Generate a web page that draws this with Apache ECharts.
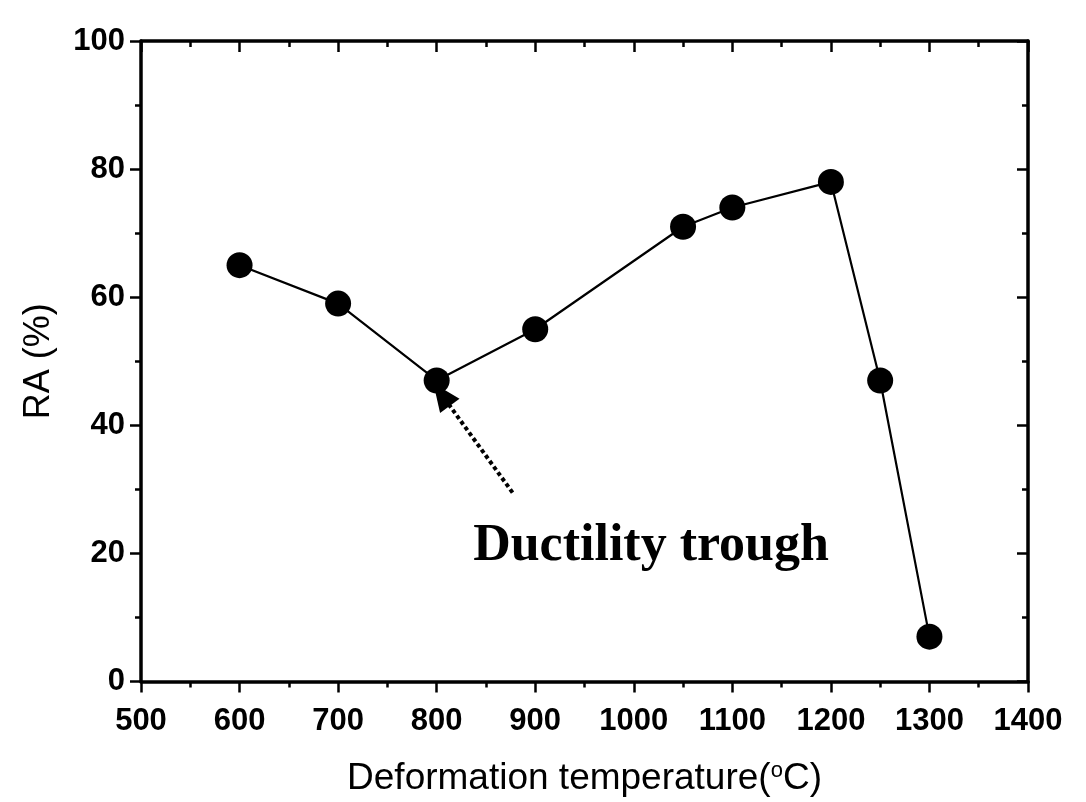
<!DOCTYPE html>
<html>
<head>
<meta charset="utf-8">
<script src="https://cdn.jsdelivr.net/npm/echarts@6/dist/echarts.min.js"></script>
<style>
  html, body { margin: 0; padding: 0; background: #fff; }
  #main { width: 1086px; height: 802px; }
</style>
</head>
<body>
<div id="main"></div>
<script>
// data
var temps = [600, 700, 800, 900, 1050, 1100, 1200, 1250, 1300];
var ra = [65, 59, 47, 55, 71, 74, 78, 47, 7];
// annotation arrow (tail -> head) and text anchor, in data units
var arrowTail = [877, 29.5];
var arrowHead = [805, 44.8];
var noteText = 'Ductility trough';
var notePos = [837, 21];

var chart = echarts.init(document.getElementById('main'));

var axisFont = { fontFamily: 'Liberation Sans, Arial', fontSize: 31, fontWeight: 'bold', color: '#000' };

// main axes have outward ticks and labels, mirror axes have inward ticks only
function frameAxis(pos, isX, main) {
  var ax = {
    type: 'value',
    position: pos,
    axisLine: { show: true, onZero: false, lineStyle: { color: '#000', width: 3.5 } },
    axisTick: { show: true, inside: !main, length: 11, lineStyle: { color: '#000', width: 2.5 } },
    minorTick: { show: true, splitNumber: 2, length: 6, lineStyle: { color: '#000', width: 2.5 } },
    splitLine: { show: false },
    axisLabel: main ? Object.assign({ margin: isX ? 24 : 16, formatter: function (v) { return String(v); } }, axisFont) : { show: false }
  };
  if (isX) {
    ax.min = 500; ax.max = 1400; ax.interval = 100;
  } else {
    ax.min = 0; ax.max = 100; ax.interval = 20;
  }
  return ax;
}

var xBottom = frameAxis('bottom', true, true);
xBottom.name = 'Deformation temperature({sup|o}C)';
xBottom.nameLocation = 'middle';
xBottom.nameGap = 78;
xBottom.nameTextStyle = {
  fontFamily: 'Liberation Sans, Arial', fontSize: 37, color: '#000',
  rich: { sup: { fontFamily: 'Liberation Sans, Arial', fontSize: 22, color: '#000', verticalAlign: 'top', padding: [0, 0, 16, 0] } }
};
var yLeft = frameAxis('left', false, true);
yLeft.name = 'RA (%)';
yLeft.nameLocation = 'middle';
yLeft.nameGap = 84;
yLeft.nameTextStyle = { fontFamily: 'Liberation Sans, Arial', fontSize: 36, color: '#000' };

var option = {
  animation: false,
  backgroundColor: '#fff',
  grid: { left: 141, top: 41, right: 58, bottom: 119 },
  xAxis: [xBottom, frameAxis('top', true, false)],
  yAxis: [yLeft, frameAxis('right', false, false)],
  series: [{
    type: 'line',
    data: temps.map(function (t, i) { return [t, ra[i]]; }),
    symbol: 'circle',
    symbolSize: 26,
    itemStyle: { color: '#000' },
    lineStyle: { color: '#000', width: 2.2 },
    markLine: {
      silent: true,
      symbol: ['none', 'triangle'],
      symbolSize: [24, 28],
      label: { show: false },
      lineStyle: { color: '#000', type: [4, 3], width: 4 },
      data: [[{ coord: arrowTail }, { coord: arrowHead }]]
    }
  }]
};

chart.setOption(option);

var p = chart.convertToPixel({ gridIndex: 0 }, notePos);
chart.setOption({
  graphic: [{
    type: 'text',
    x: p[0],
    y: p[1],
    style: {
      text: noteText,
      font: 'bold 52px "Liberation Serif", "Times New Roman", serif',
      fill: '#000',
      textVerticalAlign: 'middle'
    }
  }]
});
</script>
</body>
</html>
